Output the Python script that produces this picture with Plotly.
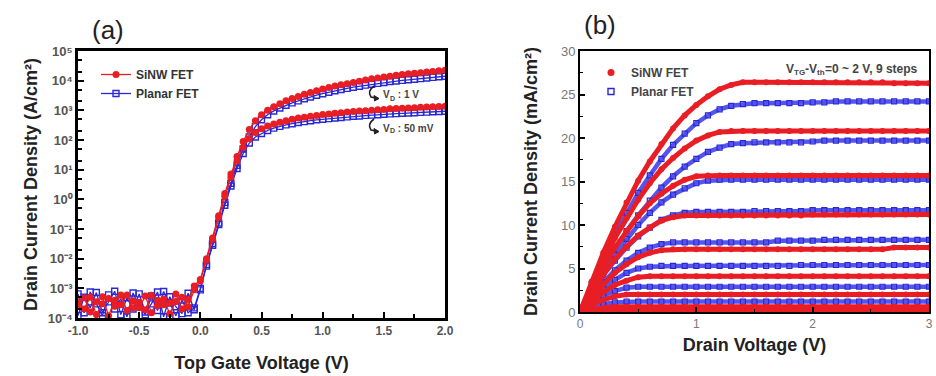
import plotly.graph_objects as go

# ---------------- Panel (a): transfer curves ----------------
VG = [-1.0, -0.95, -0.9, -0.85, -0.8, -0.75, -0.7, -0.65, -0.6, -0.55,
      -0.5, -0.45, -0.4, -0.35, -0.3, -0.25, -0.2, -0.15, -0.1, -0.05,
      0.0, 0.05, 0.1, 0.15, 0.2, 0.25, 0.3, 0.35, 0.4, 0.45,
      0.5, 0.55, 0.6, 0.65, 0.7, 0.75, 0.8, 0.85, 0.9, 0.95,
      1.0, 1.05, 1.1, 1.15, 1.2, 1.25, 1.3, 1.35, 1.4, 1.45,
      1.5, 1.55, 1.6, 1.65, 1.7, 1.75, 1.8, 1.85, 1.9, 1.95, 2.0]

SINW_VD_1V = [3.5e-4, 2.0e-4, 5.0e-4, 1.3e-4, 3.0e-4, 4.5e-4, 2.5e-4, 6.0e-4, 1.8e-4, 3.8e-4,
              2.2e-4, 5.5e-4, 1.5e-4, 4.0e-4, 2.8e-4, 3.2e-4, 6.5e-4, 2.0e-4, 4.2e-4, 1.2e-3,
              2.0e-3, 1.0e-2, 5.0e-2, 0.28, 1.58, 7.1, 28, 89, 224, 447,
              708, 1000, 1320, 1660, 2090, 2510, 2950, 3470, 3980, 4570,
              5250, 5890, 6610, 7240, 7940, 8710, 9550, 10500, 11500, 12300,
              13200, 14100, 15100, 16200, 17000, 17800, 18600, 19500, 20400, 21400, 22400]
SINW_VD_50MV = [2.5e-4, 4.8e-4, 1.6e-4, 3.5e-4, 5.2e-4, 1.2e-4, 4.0e-4, 2.8e-4, 6.0e-4, 2.2e-4,
                3.4e-4, 1.9e-4, 5.8e-4, 2.6e-4, 4.4e-4, 1.4e-4, 3.6e-4, 5.0e-4, 2.4e-4, 9.0e-4,
                1.78e-3, 8.9e-3, 4.5e-2, 0.25, 1.26, 5.6, 20, 56, 112, 178,
                240, 295, 347, 398, 447, 501, 550, 589, 631, 676,
                724, 759, 794, 832, 871, 912, 955, 977, 1000, 1050,
                1070, 1120, 1150, 1170, 1200, 1230, 1260, 1290, 1320, 1350, 1380]
PLANAR_VD_1V = [6.5e-4, 1.5e-4, 7.5e-4, 3.0e-4, 1.2e-4, 6.0e-4, 2.0e-4, 4.5e-4, 1.1e-4, 7.0e-4,
                2.5e-4, 1.3e-4, 5.5e-4, 1.8e-4, 7.8e-4, 3.2e-4, 1.2e-4, 4.0e-4, 1.5e-4, 2.2e-4,
                1.0e-3, 6.3e-3, 3.2e-2, 0.16, 0.79, 3.5, 14, 50, 126, 282,
                479, 708, 955, 1200, 1480, 1780, 2090, 2450, 2820, 3240,
                3630, 4070, 4570, 5010, 5500, 6030, 6460, 7080, 7590, 8130,
                8710, 9330, 9770, 10200, 10700, 11200, 11700, 12300, 12900, 13500, 14100]
PLANAR_VD_50MV = [1.2e-4, 5.0e-4, 2.2e-4, 7.2e-4, 1.5e-4, 3.5e-4, 8.0e-4, 1.3e-4, 4.8e-4, 2.0e-4,
                  6.5e-4, 1.6e-4, 3.0e-4, 7.5e-4, 1.1e-4, 5.2e-4, 2.4e-4, 1.4e-4, 6.8e-4, 1.9e-4,
                  8.9e-4, 5.6e-3, 2.8e-2, 0.14, 0.63, 2.8, 11, 35, 79, 126,
                  166, 209, 251, 288, 324, 355, 389, 417, 447, 479,
                  501, 525, 550, 575, 603, 631, 646, 676, 692, 708,
                  741, 759, 776, 794, 813, 832, 851, 871, 891, 912, 933]

A_X_TICKS = [-1.0, -0.5, 0.0, 0.5, 1.0, 1.5, 2.0]
A_X_LABELS = ["-1.0", "-0.5", "0.0", "0.5", "1.0", "1.5", "2.0"]
A_Y_TICKS = [1e-4, 1e-3, 1e-2, 1e-1, 1e0, 1e1, 1e2, 1e3, 1e4, 1e5]
A_Y_LABELS = ["10⁻⁴", "10⁻³", "10⁻²", "10⁻¹", "10⁰", "10¹", "10²", "10³", "10⁴", "10⁵"]

# ---------------- Panel (b): output curves ----------------
VD = [0.0, 0.1, 0.2, 0.3, 0.4, 0.5, 0.6, 0.7, 0.8, 0.9,
      1.0, 1.1, 1.2, 1.3, 1.4, 1.5, 1.6, 1.7, 1.8, 1.9,
      2.0, 2.1, 2.2, 2.3, 2.4, 2.5, 2.6, 2.7, 2.8, 2.9, 3.0]

SINW_ID = [
    [0, 3.5, 6.8, 9.8, 12.6, 15.1, 17.3, 19.3, 21.1, 22.6, 23.8, 24.8, 25.6, 26.1, 26.4, 26.4,
     26.4, 26.4, 26.4, 26.4, 26.4, 26.4, 26.4, 26.4, 26.4, 26.4, 26.4, 26.3, 26.3, 26.3, 26.3],
    [0, 3.1, 5.9, 8.5, 10.8, 12.9, 14.8, 16.4, 17.7, 18.8, 19.7, 20.3, 20.7, 20.8, 20.8, 20.8,
     20.8, 20.8, 20.8, 20.8, 20.8, 20.8, 20.8, 20.8, 20.8, 20.8, 20.8, 20.8, 20.8, 20.8, 20.8],
    [0, 2.7, 5.2, 7.4, 9.3, 11.0, 12.5, 13.6, 14.5, 15.2, 15.6, 15.7, 15.7, 15.7, 15.7, 15.7,
     15.7, 15.7, 15.7, 15.7, 15.7, 15.7, 15.7, 15.7, 15.7, 15.7, 15.7, 15.7, 15.7, 15.7, 15.7],
    [0, 2.3, 4.3, 6.1, 7.5, 8.8, 9.7, 10.5, 10.9, 11.1, 11.1, 11.1, 11.1, 11.1, 11.1, 11.1,
     11.1, 11.1, 11.1, 11.1, 11.2, 11.2, 11.2, 11.2, 11.2, 11.2, 11.2, 11.2, 11.2, 11.2, 11.2],
    [0, 1.7, 3.2, 4.5, 5.5, 6.3, 6.8, 7.1, 7.2, 7.2, 7.2, 7.2, 7.2, 7.2, 7.2, 7.2,
     7.2, 7.2, 7.2, 7.2, 7.2, 7.2, 7.2, 7.2, 7.2, 7.2, 7.2, 7.4, 7.4, 7.4, 7.4],
    [0, 1.3, 2.3, 3.1, 3.6, 4.0, 4.1, 4.1, 4.1, 4.1, 4.1, 4.1, 4.1, 4.1, 4.1, 4.1,
     4.1, 4.1, 4.1, 4.1, 4.1, 4.1, 4.1, 4.1, 4.1, 4.1, 4.1, 4.1, 4.1, 4.1, 4.1],
    [0, 0.8, 1.4, 1.8, 2.0, 2.0, 2.0, 2.0, 2.0, 2.0, 2.0, 2.0, 2.0, 2.0, 2.0, 2.0,
     2.0, 2.0, 2.0, 2.0, 2.0, 2.0, 2.0, 2.0, 2.0, 2.0, 2.0, 2.0, 2.0, 2.0, 2.0],
    [0, 0.3, 0.5, 0.6, 0.6, 0.6, 0.6, 0.6, 0.6, 0.6, 0.6, 0.6, 0.6, 0.6, 0.6, 0.6,
     0.6, 0.6, 0.6, 0.6, 0.6, 0.6, 0.6, 0.6, 0.6, 0.6, 0.6, 0.6, 0.6, 0.6, 0.6],
    [0, 0.1, 0.1, 0.1, 0.1, 0.1, 0.1, 0.1, 0.1, 0.1, 0.1, 0.1, 0.1, 0.1, 0.1, 0.1,
     0.1, 0.1, 0.1, 0.1, 0.1, 0.1, 0.1, 0.1, 0.1, 0.1, 0.1, 0.1, 0.1, 0.1, 0.1],
]
PLANAR_ID = [
    [0, 3.2, 6.2, 8.9, 11.4, 13.7, 15.7, 17.6, 19.2, 20.5, 21.7, 22.6, 23.3, 23.7, 23.9, 24.0,
     24.0, 24.0, 24.0, 24.0, 24.1, 24.1, 24.2, 24.2, 24.2, 24.2, 24.2, 24.2, 24.2, 24.2, 24.2],
    [0, 2.6, 5.0, 7.2, 9.3, 11.1, 12.8, 14.3, 15.6, 16.7, 17.6, 18.4, 18.9, 19.3, 19.4, 19.5,
     19.5, 19.5, 19.5, 19.5, 19.6, 19.7, 19.7, 19.7, 19.7, 19.7, 19.7, 19.7, 19.7, 19.7, 19.7],
    [0, 2.4, 4.6, 6.6, 8.4, 10.0, 11.4, 12.6, 13.5, 14.2, 14.8, 15.1, 15.2, 15.2, 15.2, 15.2,
     15.2, 15.2, 15.2, 15.2, 15.2, 15.2, 15.2, 15.2, 15.2, 15.2, 15.2, 15.2, 15.2, 15.2, 15.2],
    [0, 2.2, 4.2, 5.9, 7.4, 8.7, 9.7, 10.6, 11.1, 11.4, 11.5, 11.5, 11.5, 11.5, 11.5, 11.6,
     11.6, 11.6, 11.6, 11.6, 11.7, 11.7, 11.7, 11.7, 11.7, 11.7, 11.7, 11.7, 11.7, 11.7, 11.7],
    [0, 1.8, 3.4, 4.8, 5.9, 6.8, 7.4, 7.8, 8.0, 8.0, 8.0, 8.0, 8.0, 8.0, 8.0, 8.0,
     8.0, 8.2, 8.2, 8.2, 8.2, 8.3, 8.3, 8.3, 8.3, 8.3, 8.3, 8.3, 8.3, 8.3, 8.3],
    [0, 1.5, 2.7, 3.7, 4.5, 5.0, 5.2, 5.3, 5.3, 5.3, 5.3, 5.3, 5.3, 5.3, 5.3, 5.3,
     5.3, 5.3, 5.3, 5.4, 5.4, 5.4, 5.4, 5.4, 5.4, 5.4, 5.4, 5.4, 5.4, 5.4, 5.4],
    [0, 1.0, 1.9, 2.4, 2.8, 2.9, 2.9, 2.9, 2.9, 2.9, 2.9, 2.9, 2.9, 2.9, 2.9, 2.9,
     2.9, 2.9, 2.9, 2.9, 2.9, 2.9, 2.9, 2.9, 2.9, 2.9, 2.9, 2.9, 2.9, 2.9, 2.9],
    [0, 0.5, 0.9, 1.1, 1.2, 1.2, 1.2, 1.2, 1.2, 1.2, 1.2, 1.2, 1.2, 1.2, 1.2, 1.2,
     1.2, 1.2, 1.2, 1.2, 1.2, 1.2, 1.2, 1.2, 1.2, 1.2, 1.2, 1.2, 1.2, 1.2, 1.2],
    [0, 0.05, 0.05, 0.05, 0.05, 0.05, 0.05, 0.05, 0.05, 0.05, 0.05, 0.05, 0.05, 0.05, 0.05, 0.05,
     0.05, 0.05, 0.05, 0.05, 0.05, 0.05, 0.05, 0.05, 0.05, 0.05, 0.05, 0.05, 0.05, 0.05, 0.05],
]

B_X_TICKS = [0, 1, 2, 3]
B_Y_TICKS = [0, 5, 10, 15, 20, 25, 30]

# ---------------- styling / layout ----------------
W, H = 936, 376
FONT = "Liberation Sans, Arial, sans-serif"
RED = "rgb(232,30,36)"
BLUE = "rgb(40,40,215)"
BLUE_BAND = "rgb(85,85,235)"


def px(x):
    return x / W


def py(y):
    return 1 - y / H


fig = go.Figure()

# (a) Planar first so SiNW markers lie on top
for i, ys in enumerate([PLANAR_VD_1V, PLANAR_VD_50MV]):
    fig.add_trace(go.Scatter(
        x=VG, y=ys, xaxis="x", yaxis="y", mode="lines+markers",
        line=dict(color=BLUE, width=1.3),
        marker=dict(symbol="square-open", size=6, color=BLUE, line=dict(width=1.4)),
        name="Planar FET", legend="legend", legendgroup="pa", legendrank=2,
        showlegend=(i == 0)))
for i, ys in enumerate([SINW_VD_1V, SINW_VD_50MV]):
    fig.add_trace(go.Scatter(
        x=VG, y=ys, xaxis="x", yaxis="y", mode="lines+markers",
        line=dict(color=RED, width=1.3),
        marker=dict(symbol="circle", size=7, color=RED),
        name="SiNW FET", legend="legend", legendgroup="sa", legendrank=1,
        showlegend=(i == 0)))

# (b) legend-only entries
fig.add_trace(go.Scatter(x=[None], y=[None], xaxis="x2", yaxis="y2", mode="markers",
                         marker=dict(symbol="circle", size=7, color=RED),
                         name="SiNW FET", legend="legend2", legendrank=1))
fig.add_trace(go.Scatter(x=[None], y=[None], xaxis="x2", yaxis="y2", mode="markers",
                         marker=dict(symbol="square-open", size=6, color=BLUE, line=dict(width=1.4)),
                         name="Planar FET", legend="legend2", legendrank=2))

for ys in PLANAR_ID:
    fig.add_trace(go.Scatter(
        x=VD, y=ys, xaxis="x2", yaxis="y2", mode="lines+markers",
        line=dict(color=BLUE_BAND, width=4.5),
        marker=dict(symbol="square-open", size=5, color=BLUE, line=dict(width=1.2)),
        showlegend=False, name="Planar FET"))
for ys in SINW_ID:
    fig.add_trace(go.Scatter(
        x=VD, y=ys, xaxis="x2", yaxis="y2", mode="lines+markers",
        line=dict(color=RED, width=5),
        marker=dict(symbol="circle", size=6, color=RED),
        showlegend=False, name="SiNW FET"))

axis_common = dict(showgrid=False, zeroline=False, showline=True, linecolor="black",
                   mirror=True, ticks="inside", tickcolor="black", automargin=False)

fig.update_layout(
    width=W, height=H,
    margin=dict(l=0, r=0, t=0, b=0, autoexpand=False),
    paper_bgcolor="white", plot_bgcolor="white",
    font=dict(family=FONT, color="#333", size=12),
    xaxis=dict(
        **axis_common, domain=[px(78), px(445)], anchor="y", range=[-1, 2],
        linewidth=2.5, tickwidth=2, ticklen=6,
        tickvals=A_X_TICKS, ticktext=A_X_LABELS,
        minor=dict(ticks="inside", ticklen=4, tickwidth=1.5, tickcolor="black", dtick=0.25, tick0=0),
        tickfont=dict(size=12, color="#555", weight="bold"),
        title=dict(text="Top Gate Voltage (V)", standoff=20,
                   font=dict(size=18, color="#222", weight="bold"))),
    yaxis=dict(
        **axis_common, domain=[py(318), py(51)], anchor="x", type="log", range=[-4, 5],
        linewidth=2.5, tickwidth=2, ticklen=6,
        tickvals=A_Y_TICKS, ticktext=A_Y_LABELS,
        minor=dict(ticks="inside", ticklen=4, tickwidth=1.5, tickcolor="black"),
        tickfont=dict(size=13, color="#555", weight="bold"),
        title=dict(text="Drain Current Density (A/cm²)", standoff=6,
                   font=dict(size=18, color="#222", weight="bold"))),
    xaxis2=dict(
        **axis_common, domain=[px(580), px(929)], anchor="y2", range=[0, 3],
        linewidth=1.8, tickwidth=1.5, ticklen=5,
        tickvals=B_X_TICKS,
        minor=dict(ticks="inside", ticklen=3, tickwidth=1, tickcolor="black", dtick=0.5, tick0=0),
        tickfont=dict(size=12, color="#777"),
        title=dict(text="Drain Voltage (V)", standoff=8,
                   font=dict(size=18, color="#222", weight="bold"))),
    yaxis2=dict(
        **axis_common, domain=[py(312), py(51)], anchor="x2", range=[0, 30],
        linewidth=1.8, tickwidth=1.5, ticklen=5,
        tickvals=B_Y_TICKS,
        minor=dict(ticks="inside", ticklen=3, tickwidth=1, tickcolor="black", dtick=2.5, tick0=0),
        tickfont=dict(size=13, color="#777"),
        title=dict(text="Drain Current Density (mA/cm²)", standoff=19,
                   font=dict(size=18, color="#222", weight="bold"))),
    legend=dict(x=px(96), y=py(60), xanchor="left", yanchor="top",
                bgcolor="rgba(0,0,0,0)", borderwidth=0, tracegroupgap=0,
                font=dict(size=12, color="#333", weight="bold")),
    legend2=dict(x=px(591), y=py(58), xanchor="left", yanchor="top",
                 bgcolor="rgba(0,0,0,0)", borderwidth=0, itemwidth=30,
                 font=dict(size=12, color="#444", weight="bold")),
    showlegend=True,
)


def label(text, x, y, size, anchor="left"):
    return dict(text=text, x=px(x), y=py(y), xref="paper", yref="paper", showarrow=False,
                xanchor=anchor, yanchor="middle", borderpad=0,
                font=dict(size=size, color="#444", weight="bold"))


annotations = [
    dict(text="(a)", x=px(108), y=py(30), xref="paper", yref="paper", showarrow=False,
         xanchor="center", yanchor="middle", font=dict(size=26, color="#222")),
    dict(text="(b)", x=px(600), y=py(25), xref="paper", yref="paper", showarrow=False,
         xanchor="center", yanchor="middle", font=dict(size=26, color="#222")),
    # V_D : 1 V
    label("V", 382, 95, 10), label("D", 388.7, 98, 7), label(" : 1 V", 393.8, 95, 10),
    # V_D : 50 mV
    label("V", 382, 128, 10), label("D", 388.7, 131, 7), label(" : 50 mV", 393.8, 128, 10),
    # V_TG - V_th = 0 ~ 2 V, 9 steps
    label("V", 785, 69, 12), label("TG", 793, 72.5, 8), label("-V", 804.1, 69, 12),
    label("th", 816.1, 72.5, 8), label("=0 ~ 2 V, 9 steps", 823.7, 69, 12),
]
fig.update_layout(annotations=annotations)


# curly pointer arrows next to the V_D labels (drawn as paper-space shapes)
def curl(x0, y0):
    p = (f"M {px(x0)},{py(y0)} Q {px(x0 - 7)},{py(y0 + 5)} {px(x0 - 3)},{py(y0 + 11)} "
         f"L {px(x0 + 2)},{py(y0 + 12)}")
    head = (f"M {px(x0 + 5)},{py(y0 + 12.5)} L {px(x0)},{py(y0 + 9.5)} "
            f"L {px(x0 + 0.5)},{py(y0 + 15)} Z")
    return [dict(type="path", path=p, xref="paper", yref="paper",
                 line=dict(color="#222", width=1.6)),
            dict(type="path", path=head, xref="paper", yref="paper",
                 line=dict(color="#222", width=1), fillcolor="#222")]


shapes = curl(374, 86) + curl(374, 119)
fig.update_layout(shapes=shapes)

fig.write_html("out.html", config={"displayModeBar": False},
               post_script="document.body.style.margin='0';document.body.style.padding='0';")
